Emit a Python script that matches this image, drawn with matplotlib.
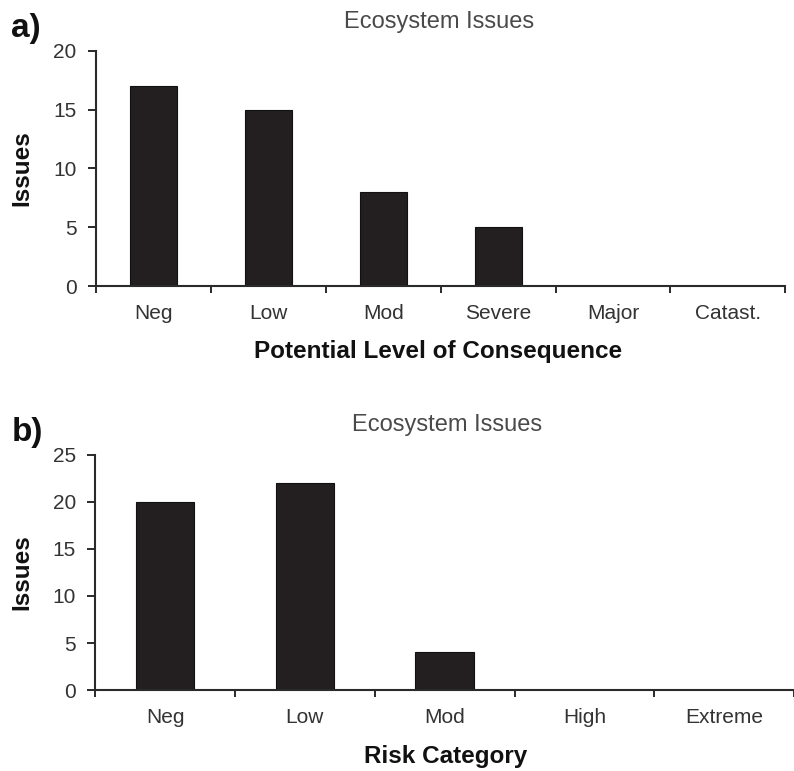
import numpy as np
import matplotlib
matplotlib.use("Agg")
import matplotlib.pyplot as plt

# panel a: consequence levels
consequence_labels = ["Neg", "Low", "Mod", "Severe", "Major", "Catast."]
consequence_counts = [17, 15, 8, 5, 0, 0]

# panel b: risk categories
risk_labels = ["Neg", "Low", "Mod", "High", "Extreme"]
risk_counts = [20, 22, 4, 0, 0]

BAR_COLOR = "#231f20"
AXIS_COLOR = "#2a2a2a"
TEXT_COLOR = "#333333"

plt.rcParams["font.family"] = ["Liberation Sans", "DejaVu Sans"]

W, H = 794, 771
fig = plt.figure(figsize=(W / 100, H / 100), dpi=100)


def px(x, y):
    # pixel position (from top-left) -> figure fraction
    return x / W, 1 - y / H


def draw_panel(ax, labels, counts, ymax, ystep, bar_width):
    x = np.arange(len(labels))
    ax.bar(x, counts, width=bar_width, color=BAR_COLOR, edgecolor="#111111",
           linewidth=0.8, zorder=3)
    ax.set_xlim(-0.5, len(labels) - 0.5)
    ax.set_ylim(0, ymax)
    ax.set_yticks(np.arange(0, ymax + 1, ystep))
    ax.set_xticks(x)
    ax.set_xticklabels(labels, fontsize=15, color=TEXT_COLOR)
    ax.set_xticks(np.arange(-0.5, len(labels)), minor=True)
    ax.tick_params(axis="x", which="major", length=0, pad=13)
    ax.tick_params(axis="x", which="minor", length=5, width=1.4, color=AXIS_COLOR,
                   direction="out")
    ax.tick_params(axis="y", length=6, width=1.4, color=AXIS_COLOR, pad=8,
                   labelsize=15, labelcolor=TEXT_COLOR)
    for side in ("top", "right"):
        ax.spines[side].set_visible(False)
    for side in ("left", "bottom"):
        ax.spines[side].set_color(AXIS_COLOR)
        ax.spines[side].set_linewidth(1.5)
    ax.spines["bottom"].set_zorder(4)


ax_a = fig.add_axes([0.121, 0.629, 0.868, 0.305])
draw_panel(ax_a, consequence_labels, consequence_counts, 20, 5, 0.41)

ax_b = fig.add_axes([0.120, 0.105, 0.880, 0.305])
draw_panel(ax_b, risk_labels, risk_counts, 25, 5, 0.42)

# titles, axis labels, panel tags
title_kw = dict(ha="center", va="center", fontsize=17, color="#4a4a4a")
fig.text(*px(439, 22), "Ecosystem Issues", **title_kw)
fig.text(*px(447, 425), "Ecosystem Issues", **title_kw)

label_kw = dict(ha="center", va="center", fontsize=17.5, fontweight="bold",
                color="#111111")
fig.text(*px(22, 168), "Issues", rotation=90, **label_kw)
fig.text(*px(22, 572), "Issues", rotation=90, **label_kw)
fig.text(*px(438, 352), "Potential Level of Consequence", **label_kw)
fig.text(*px(446, 756), "Risk Category", **label_kw)

tag_kw = dict(ha="center", va="center", fontsize=24, fontweight="bold",
              color="#111111")
fig.text(*px(26, 29), "a)", **tag_kw)
fig.text(*px(27, 432), "b)", **tag_kw)

fig.savefig("out.png", dpi=100, facecolor="white")
